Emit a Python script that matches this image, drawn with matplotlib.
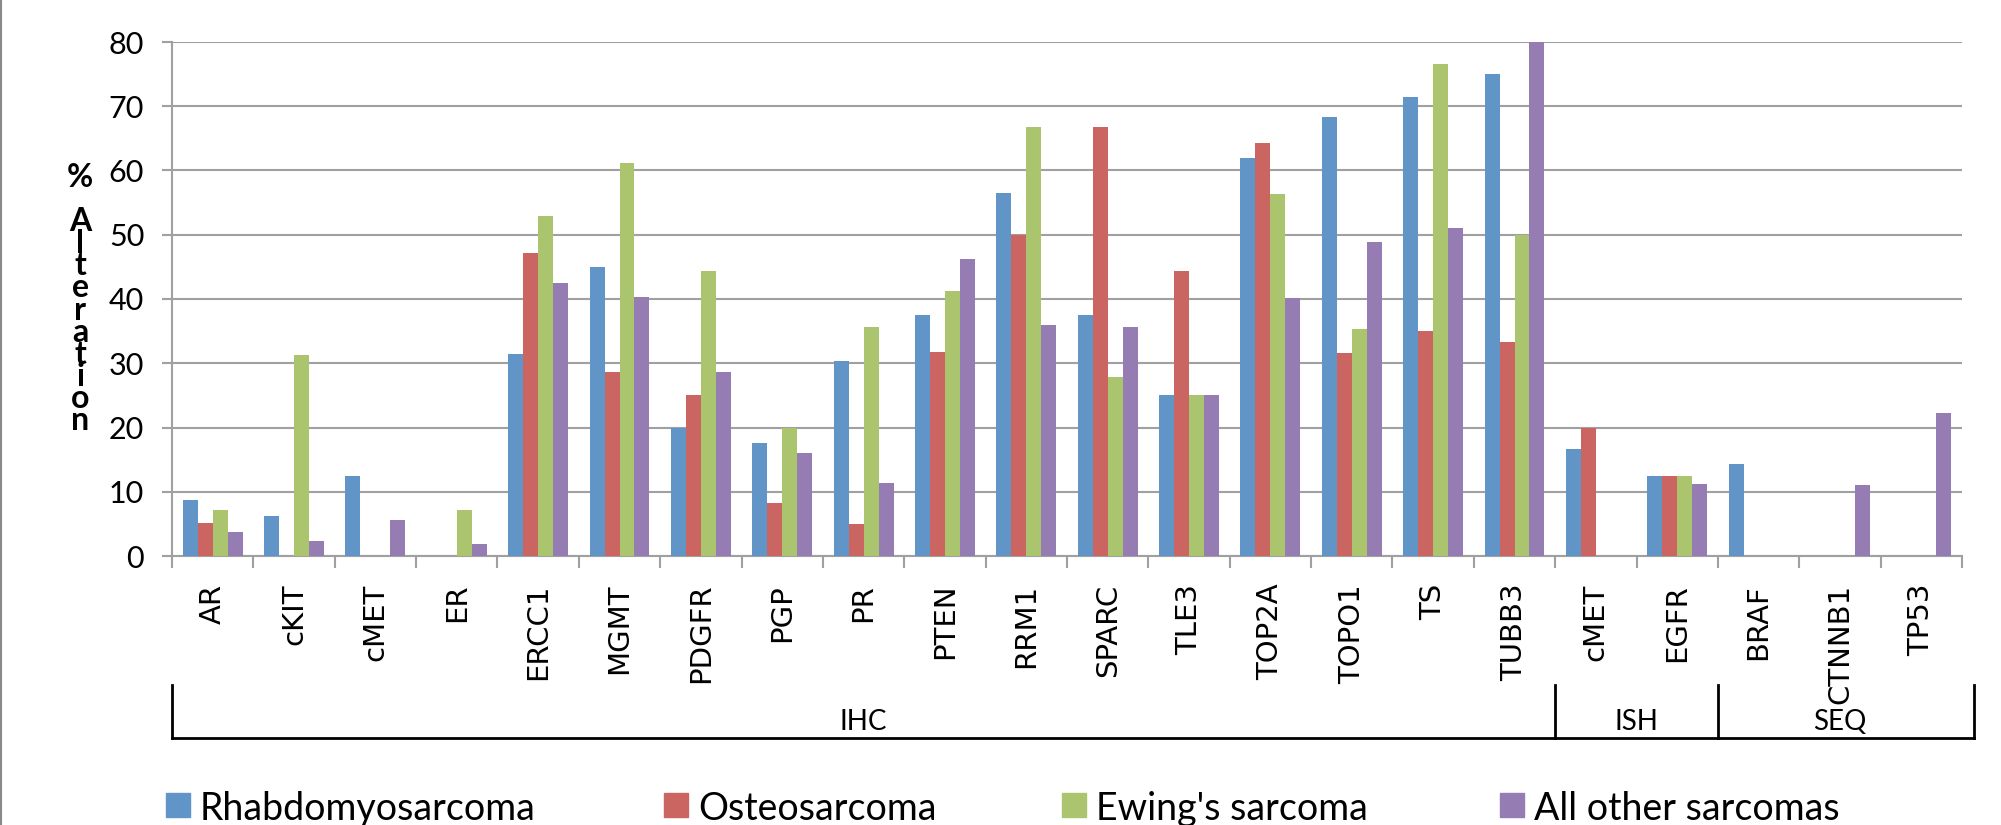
import numpy as np
import matplotlib
matplotlib.use("Agg")
import matplotlib.pyplot as plt
from matplotlib.patches import Rectangle
from matplotlib.transforms import blended_transform_factory

# data
markers = ["AR", "cKIT", "cMET", "ER", "ERCC1", "MGMT", "PDGFR", "PGP", "PR", "PTEN",
           "RRM1", "SPARC", "TLE3", "TOP2A", "TOPO1", "TS", "TUBB3",
           "cMET", "EGFR",
           "BRAF", "CTNNB1", "TP53"]
group_names = ["IHC", "ISH", "SEQ"]
group_sizes = [17, 2, 3]

rhabdo = [8.7, 6.3, 12.5, 0, 31.5, 45.0, 20.0, 17.6, 30.4, 37.5,
          56.5, 37.5, 25.0, 61.9, 68.4, 71.4, 75.0,
          16.7, 12.5,
          14.3, 0, 0]
osteo = [5.2, 0, 0, 0, 47.1, 28.6, 25.0, 8.3, 5.0, 31.8,
         50.0, 66.7, 44.4, 64.3, 31.6, 35.0, 33.3,
         20.0, 12.5,
         0, 0, 0]
ewing = [7.1, 31.3, 0, 7.1, 52.9, 61.1, 44.4, 20.0, 35.7, 41.2,
         66.7, 27.8, 25.0, 56.3, 35.3, 76.5, 50.0,
         0, 12.5,
         0, 0, 0]
other = [3.7, 2.3, 5.6, 1.8, 42.5, 40.3, 28.6, 16.0, 11.3, 46.3,
         36.0, 35.7, 25.0, 40.1, 48.9, 51.1, 80.0,
         0, 11.2,
         0, 11.1, 22.2]

series_names = ["Rhabdomyosarcoma", "Osteosarcoma", "Ewing's sarcoma", "All other sarcomas"]
series_vals = [rhabdo, osteo, ewing, other]
colors = ["#6195C8", "#CB6561", "#ABC46E", "#957CB2"]

W, H = 2001, 825
fig = plt.figure(figsize=(W / 100, H / 100), dpi=100)
ax = fig.add_axes([172 / W, 1 - 556 / H, (1962 - 172) / W, (556 - 42) / H])

grid_c = "#A0A0A0"
x = np.arange(len(markers))
bw = 0.184
for i, (vals, c) in enumerate(zip(series_vals, colors)):
    ax.bar(x + (i - 1.5) * bw, vals, width=bw, color=c, edgecolor="none", zorder=3)

ax.set_xlim(-0.5, len(markers) - 0.5)
ax.set_ylim(0, 80)
ax.set_yticks(np.arange(0, 81, 10))
ax.yaxis.grid(True, color=grid_c, linewidth=1.5, zorder=0)
for s in ["top", "right"]:
    ax.spines[s].set_visible(False)
for s in ["left", "bottom"]:
    ax.spines[s].set_color(grid_c)
    ax.spines[s].set_linewidth(1.5)

ax.tick_params(axis="y", colors=grid_c, length=7, width=1.5, pad=13,
               labelcolor="black", labelsize=22)
for lab in ax.get_yticklabels():
    lab.set_family(["Lato", "DejaVu Sans"])

ax.set_xticks(x)
ax.set_xticklabels(markers, rotation=90, va="top", ha="center",
                   family="DejaVu Sans", fontsize=21)
ax.tick_params(axis="x", which="major", length=0, pad=20)
ax.set_xticks(np.arange(-0.5, len(markers)), minor=True)
ax.tick_params(axis="x", which="minor", length=8.5, width=1.5, color=grid_c)

# y label, letters stacked one per line
ylab = "% Alteration"
fig.text(80 / W, 1 - 299 / H, "\n".join(ylab), ha="center", va="center",
         multialignment="center", linespacing=0.71,
         fontsize=23, fontweight="bold", family=["Lato", "DejaVu Sans"])

# group brackets under the category labels
tr = blended_transform_factory(ax.transData, ax.transAxes)
y_line, y_top, y_txt = -0.354, -0.251, -0.322
bounds = np.concatenate([[0], np.cumsum(group_sizes)]) - 0.5
x_end = bounds[-1] + 0.15
ax.plot([bounds[0], x_end], [y_line, y_line], color="black", lw=2, transform=tr, clip_on=False)
for b in list(bounds[:-1]) + [x_end]:
    ax.plot([b, b], [y_line, y_top], color="black", lw=2, transform=tr, clip_on=False)
for name, lo, hi in zip(group_names, bounds[:-1], bounds[1:]):
    ax.text((lo + hi) / 2, y_txt, name, transform=tr, ha="center", va="center",
            fontsize=20, family=["Lato", "DejaVu Sans"])

# legend along the bottom edge
leg_x = [166, 664, 1062, 1500]
for lx, name, c in zip(leg_x, series_names, colors):
    fig.patches.append(Rectangle((lx / W, 1 - 817 / H), 24 / W, 24 / H,
                                 transform=fig.transFigure, color=c))
    fig.text((lx + 34) / W, 1 - 820 / H, name, ha="left", va="baseline",
             fontsize=27, family=["Lato", "DejaVu Sans"])

# chart area border on the left
fig.add_artist(plt.Line2D([1 / W, 1 / W], [0, 1], color="#888888", lw=1.5,
                          transform=fig.transFigure))

fig.savefig("out.png", dpi=100)
